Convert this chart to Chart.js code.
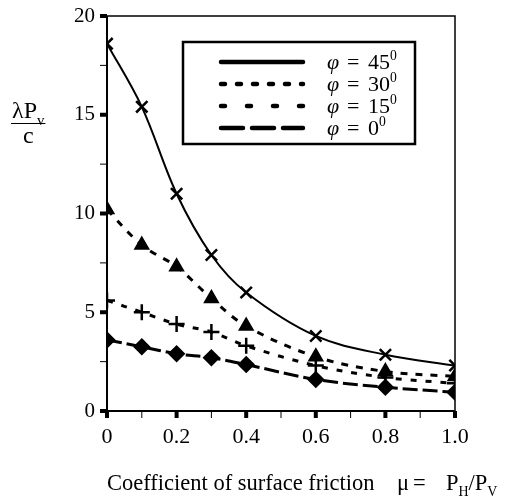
<!DOCTYPE html>
<html>
<head>
<meta charset="utf-8">
<script src="https://cdn.jsdelivr.net/npm/chart.js@4/dist/chart.umd.min.js"></script>
<style>
  html, body { margin: 0; padding: 0; background: #fff; }
  #wrap { width: 513px; height: 499px; position: relative; }
</style>
</head>
<body>
<div id="wrap"><canvas id="frictionChart" width="513" height="499"></canvas></div>
<script>
const mu = [0, 0.1, 0.2, 0.3, 0.4, 0.6, 0.8, 1.0];
const phi45 = [18.6, 15.4, 11.0, 7.9, 6.0, 3.8, 2.85, 2.3];
const phi30 = [10.2, 8.4, 7.3, 5.7, 4.3, 2.75, 2.0, 1.75];
const phi15 = [5.6, 5.0, 4.4, 4.0, 3.3, 2.3, 1.7, 1.4];
const phi0 = [3.6, 3.25, 2.9, 2.7, 2.35, 1.6, 1.2, 0.95];
const seriesNames = ['45', '30', '15', '0'];

const serif = '"Liberation Serif", "DejaVu Serif", serif';

function pts(ys) {
    return mu.map((m, i) => ({ x: m, y: ys[i] }));
}

function series(label, ys, dash, width, style, radius) {
    return {
        label: label,
        data: pts(ys),
        borderColor: '#000',
        backgroundColor: '#000',
        borderWidth: width,
        borderDash: dash,
        tension: 0.35,
        pointStyle: style,
        pointRadius: radius,
        pointBorderWidth: 2.5,
        pointBackgroundColor: '#000',
        pointBorderColor: '#000',
        clip: 0
    };
}

// draw text in runs so sub/superscripts work
function drawRuns(ctx, runs, x, y, size) {
    let cx = x;
    runs.forEach(r => {
        const s = r.small ? size * 0.62 : size;
        ctx.font = (r.italic ? 'italic ' : '') + s + 'px ' + serif;
        const dy = r.sub ? size * 0.28 : (r.sup ? -size * 0.42 : 0);
        if (r.at !== undefined) cx = r.at;
        ctx.fillText(r.t, cx, y + dy);
        cx += ctx.measureText(r.t).width;
    });
    return cx - x;
}

function runsWidth(ctx, runs, size) {
    let w = 0;
    runs.forEach(r => {
        const s = r.small ? size * 0.62 : size;
        ctx.font = (r.italic ? 'italic ' : '') + s + 'px ' + serif;
        w += ctx.measureText(r.t).width;
    });
    return w;
}

const decor = {
    id: 'decor',
    afterDatasetsDraw(chart) {
        const ctx = chart.ctx;
        const a = chart.chartArea;
        const xs = chart.scales.x, ys = chart.scales.y;
        ctx.save();
        ctx.strokeStyle = '#000';
        ctx.fillStyle = '#000';

        // frame
        ctx.lineWidth = 1.5;
        ctx.strokeRect(a.left, a.top, a.right - a.left, a.bottom - a.top);
        ctx.lineWidth = 2;
        ctx.beginPath();
        ctx.moveTo(a.left, a.top); ctx.lineTo(a.left, a.bottom); ctx.lineTo(a.right, a.bottom);
        ctx.stroke();

        // outward ticks
        for (let v = 0; v <= 20.001; v += 2.5) {
            const py = ys.getPixelForValue(v);
            const major = Math.abs(v % 5) < 0.01;
            ctx.lineWidth = major ? 4 : 1;
            ctx.beginPath();
            ctx.moveTo(a.left, py); ctx.lineTo(a.left - 7, py);
            ctx.stroke();
        }
        for (let i = 0; i <= 10; i++) {
            const px = xs.getPixelForValue(i / 10);
            const major = i % 2 === 0;
            ctx.lineWidth = major ? 4 : 1;
            ctx.beginPath();
            ctx.moveTo(px, a.bottom); ctx.lineTo(px, a.bottom + 7);
            ctx.stroke();
        }

        // legend
        const lx = 183, ly = 42, lw = 232, lh = 102;
        ctx.lineWidth = 2.5;
        ctx.setLineDash([]);
        ctx.fillStyle = '#fff';
        ctx.fillRect(lx, ly, lw, lh);
        ctx.strokeRect(lx, ly, lw, lh);
        ctx.fillStyle = '#000';
        const rows = [62, 84, 106, 128];
        const dashes = [[], [4, 12], [4, 22], [22, 9]];
        ctx.textBaseline = 'alphabetic';
        chart.data.datasets.forEach((ds, i) => {
            ctx.lineWidth = 4.5;
            ctx.lineCap = 'round';
            ctx.setLineDash(dashes[i]);
            ctx.beginPath();
            ctx.moveTo(221, rows[i]); ctx.lineTo(303, rows[i]);
            ctx.stroke();
            ctx.setLineDash([]);
            ctx.lineCap = 'butt';
            drawRuns(ctx, [
                { t: 'φ', italic: true },
                { t: '=', at: 347 },
                { t: seriesNames[i], at: 368 },
                { t: '0', small: true, sup: true }
            ], 327, rows[i] + 7, 22);
        });

        // y axis title as a fraction
        ctx.fillStyle = '#000';
        ctx.textAlign = 'left';
        const yt = [{ t: 'λP' }, { t: 'v', small: true, sub: true }];
        const yw = runsWidth(ctx, yt, 24);
        drawRuns(ctx, yt, 12, 118, 24);
        ctx.lineWidth = 1.2;
        ctx.beginPath();
        ctx.moveTo(11, 123.5); ctx.lineTo(13 + yw, 123.5);
        ctx.stroke();
        ctx.font = '24px ' + serif;
        ctx.textAlign = 'center';
        ctx.fillText('c', 12 + yw / 2, 143);

        // x axis title
        ctx.textAlign = 'left';
        drawRuns(ctx, [
            { t: 'Coefficient of surface friction' },
            { t: 'μ', at: 397 },
            { t: '=', at: 413 },
            { t: 'P', at: 446 },
            { t: 'H', small: true, sub: true },
            { t: '/P' },
            { t: 'V', small: true, sub: true }
        ], 107, 490, 22.5);
        ctx.restore();
    }
};

const ctxFriction = document.getElementById('frictionChart').getContext('2d');
new Chart(ctxFriction, {
    type: 'line',
    data: {
        datasets: [
            series('φ = 45', phi45, [], 2, 'crossRot', 8),
            series('φ = 30', phi30, [7, 8], 3, 'triangle', 7),
            series('φ = 15', phi15, [6, 9], 3, 'cross', 8),
            series('φ = 0', phi0, [15, 5], 3, 'rectRot', 7)
        ]
    },
    options: {
        responsive: false,
        animation: false,
        layout: { padding: { top: 16, right: 58, left: 0, bottom: 0 } },
        scales: {
            x: {
                type: 'linear',
                min: 0,
                max: 1,
                grid: { display: false, drawTicks: false },
                border: { display: false },
                ticks: {
                    stepSize: 0.2,
                    color: '#000',
                    font: { family: serif, size: 22 },
                    padding: 13,
                    maxRotation: 0,
                    callback: v => v === 0 ? '0' : v.toFixed(1)
                },
                afterFit: s => {
                    s.height = 88;
                    s.paddingLeft = 0;
                    s.paddingRight = 0;
                }
            },
            y: {
                min: 0,
                max: 20,
                grid: { display: false, drawTicks: false },
                border: { display: false },
                ticks: {
                    stepSize: 5,
                    color: '#000',
                    font: { family: serif, size: 21 },
                    padding: 12
                },
                afterFit: s => {
                    s.width = 107;
                    s.paddingTop = 0;
                    s.paddingBottom = 0;
                }
            }
        },
        plugins: {
            legend: { display: false },
            tooltip: { enabled: false }
        }
    },
    plugins: [decor]
});
</script>
</body>
</html>
